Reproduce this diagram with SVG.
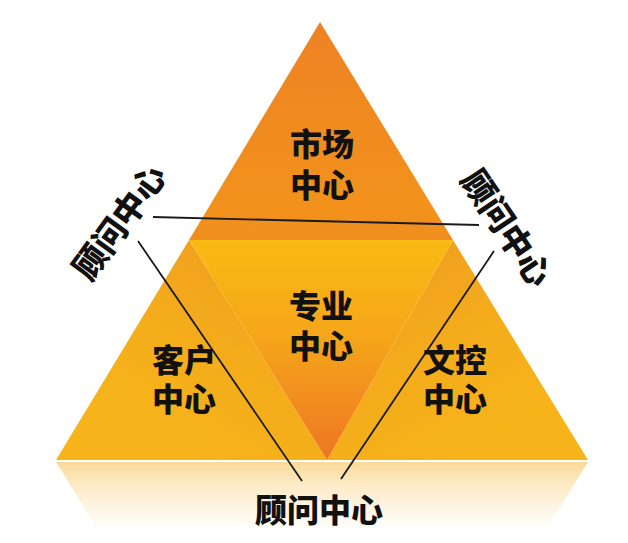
<svg xmlns="http://www.w3.org/2000/svg" width="628" height="543" viewBox="0 0 628 543">
<defs>
<linearGradient id="gTop" x1="0" y1="22" x2="0" y2="240" gradientUnits="userSpaceOnUse">
<stop offset="0" stop-color="#EE8224"/>
<stop offset="0.85" stop-color="#F2921C"/>
<stop offset="1" stop-color="#EF8E1E"/>
</linearGradient>
<linearGradient id="gMid" x1="0" y1="240" x2="0" y2="460" gradientUnits="userSpaceOnUse">
<stop offset="0" stop-color="#F9BA13"/>
<stop offset="0.45" stop-color="#F5A51A"/>
<stop offset="1" stop-color="#EE7622"/>
</linearGradient>
<linearGradient id="gLeft" x1="250" y1="260" x2="150" y2="430" gradientUnits="userSpaceOnUse">
<stop offset="0" stop-color="#F0A01F"/>
<stop offset="0.5" stop-color="#F4AC1B"/>
<stop offset="1" stop-color="#F6B31A"/>
</linearGradient>
<linearGradient id="gRight" x1="400" y1="260" x2="500" y2="430" gradientUnits="userSpaceOnUse">
<stop offset="0" stop-color="#F0A01F"/>
<stop offset="0.5" stop-color="#F4AC1B"/>
<stop offset="1" stop-color="#F6B31A"/>
</linearGradient>
<linearGradient id="gRef" x1="0" y1="462" x2="0" y2="530" gradientUnits="userSpaceOnUse">
<stop offset="0" stop-color="#FADA98"/>
<stop offset="0.35" stop-color="#FDEBC8"/>
<stop offset="1" stop-color="#FFFFFF"/>
</linearGradient>
<style>
.t{font-family:"Noto Sans CJK SC","Noto Sans CJK JP",sans-serif;font-weight:900;font-size:32px;fill:#111;text-anchor:middle;dominant-baseline:central}
.r{font-size:33px}
.ln{stroke:#1a1a1a;stroke-width:1.8;fill:none}
</style>
</defs>
<rect width="628" height="543" fill="#FFFFFF"/>
<g id="reflection">
<polygon points="56,462 588,462 546,530 98,530" fill="url(#gRef)"/>
</g>
<g id="pyramid">
<polygon id="top" points="320,22 189,240 453,240" fill="url(#gTop)"/>
<polygon id="left" points="189,240 56,460 327,460" fill="url(#gLeft)"/>
<polygon id="right" points="453,240 588,460 327,460" fill="url(#gRight)"/>
<polygon id="middle" points="189,240 453,240 327,460" fill="url(#gMid)"/>
</g>
<g id="connectors">
<line class="ln" x1="153" y1="217" x2="479" y2="225"/>
<line class="ln" x1="138" y1="241" x2="302" y2="481"/>
<line class="ln" x1="494" y1="251" x2="341" y2="479"/>
</g>
<g id="node-market">
<text class="t"><tspan x="322" y="142">市场</tspan><tspan x="322" y="183">中心</tspan></text>
</g>
<g id="node-professional">
<text class="t"><tspan x="321" y="304">专业</tspan><tspan x="321" y="344">中心</tspan></text>
</g>
<g id="node-client">
<text class="t"><tspan x="184" y="358">客户</tspan><tspan x="184" y="397">中心</tspan></text>
</g>
<g id="node-document">
<text class="t"><tspan x="455" y="358">文控</tspan><tspan x="455" y="397">中心</tspan></text>
</g>
<g id="node-consult-left">
<text class="t r" transform="translate(118,221) rotate(-54)">顾问中心</text>
</g>
<g id="node-consult-right">
<text class="t r" transform="translate(508,227) rotate(56)">顾问中心</text>
</g>
<g id="node-consult-bottom">
<text class="t" x="319" y="508">顾问中心</text>
</g>
</svg>
